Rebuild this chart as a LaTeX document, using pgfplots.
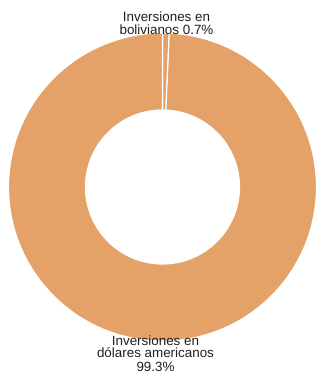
\documentclass[border=0pt]{standalone}
\usepackage{pgfplots}
\usepackage{pgfplotstable}
\pgfplotsset{compat=1.18}
\usepackage{fontspec}
\setmainfont{Liberation Sans}
\definecolor{slice}{RGB}{228,161,104}
\definecolor{txt}{RGB}{30,30,30}

\pgfplotstableread{
label value
bolivianos 0.7
dolares 99.3
}\piedata

\begin{document}
\begin{tikzpicture}
\begin{axis}[hide axis, scale only axis, width=318pt, height=376pt,
  xmin=-162.5, xmax=155.5, ymin=-189, ymax=187, clip=false]
  \pgfplotstablegetelem{0}{value}\of\piedata \xdef\va{\pgfplotsretval}
  \pgfplotstablegetelem{1}{value}\of\piedata \xdef\vb{\pgfplotsretval}
  \pgfmathsetmacro\aone{90-3.6*\va}
  \pgfmathsetmacro\atwo{\aone-3.6*\vb}
  \begin{scope}[shift={(axis cs:0,0)}]
    \filldraw[fill=slice, draw=white, line width=1.2pt]
      (90:154pt) arc[start angle=90, end angle=\aone, radius=154pt]
      -- (\aone:77pt) arc[start angle=\aone, end angle=90, radius=77pt] -- cycle;
    \filldraw[fill=slice, draw=white, line width=1.2pt]
      (\aone:154pt) arc[start angle=\aone, end angle=\atwo, radius=154pt]
      -- (\atwo:77pt) arc[start angle=\atwo, end angle=\aone, radius=77pt] -- cycle;
  \end{scope}
  \tikzset{lab/.style={anchor=base, inner sep=0pt, text=txt, font=\fontsize{13.4}{13}\selectfont}}
  \node[lab] at (axis cs:4,165) {Inversiones en};
  \node[lab] at (axis cs:4,152.3) {bolivianos 0.7\%};
  \node[lab] at (axis cs:-7,-158.3) {Inversiones en};
  \node[lab] at (axis cs:-7,-171) {dólares americanos};
  \node[lab] at (axis cs:-7,-184.3) {99.3\%};
\end{axis}
\pgfresetboundingbox
\path (current axis.south west) rectangle (current axis.north east);
\end{tikzpicture}
\end{document}
